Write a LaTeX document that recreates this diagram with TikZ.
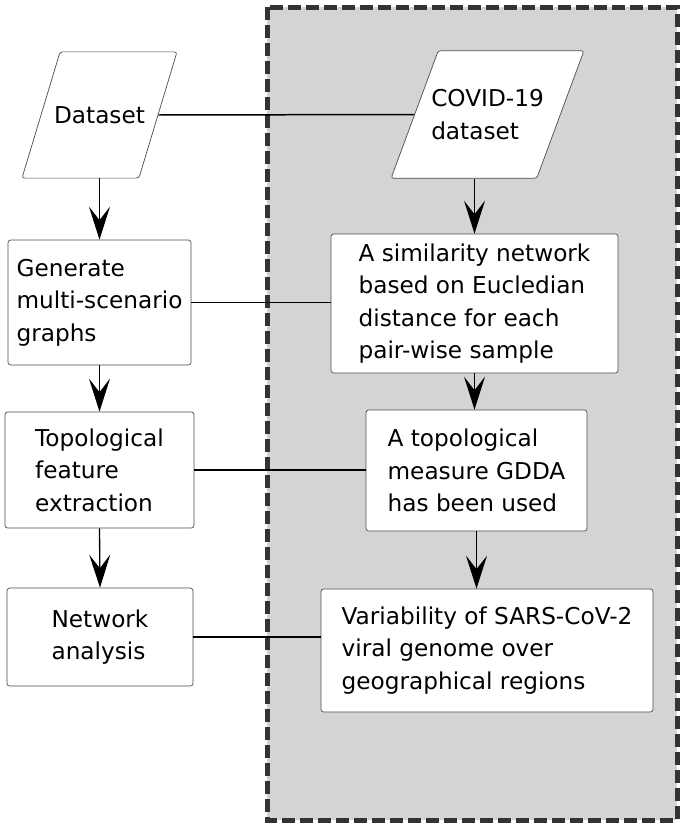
\documentclass[tikz,border=0pt]{standalone}
\usepackage{fontspec}
\setmainfont{DejaVu Sans}
\usetikzlibrary{shapes.geometric, arrows.meta, positioning}

\tikzset{
  boxfont/.style={font=\fontsize{13.2}{18.5}\selectfont},
  procbox/.style={draw=black!70, fill=white, rounded corners=1.5pt, align=left, inner sep=0pt, boxfont},
  databox/.style={trapezium, trapezium stretches body=true, draw=black!70, fill=white, rounded corners=1.5pt, align=left, boxfont},
  flow/.style={-{Stealth[length=6.6mm,width=4.2mm,inset=2.7mm]}, line width=0.75pt},
  link/.style={line width=0.85pt},
  dashbox/.style={draw=black!80, fill=black!17, line width=1mm, dash pattern=on 2.6mm off 1mm},
}

\begin{document}
\begin{tikzpicture}[x=0.2mm, y=-0.2mm]
\useasboundingbox (0,0) rectangle (685,828);

% shaded region
\draw[dashbox] (267,7) rectangle (677,820);

% left column
\node[databox, inner xsep=-1.2mm, inner ysep=10.9mm,
  trapezium left angle=73.2, trapezium right angle=106.8] (data) at (99.5,115) {Dataset};
\node[procbox, minimum width=36.6mm, minimum height=25mm] (gen) at (99.5,302.5) {Generate\\multi-scenario\\graphs};
\node[procbox, minimum width=37.8mm, minimum height=23.2mm] (topo) at (99.5,470) {Topological\\feature\\extraction};
\node[procbox, minimum width=37.2mm, minimum height=19.6mm] (net) at (100,637) {Network\\analysis};

% right column
\node[databox, inner xsep=-1.4mm, inner ysep=7.75mm,
  trapezium left angle=69.7, trapezium right angle=110.3] (covid) at (487.5,114.5) {COVID-19\\dataset};
\node[procbox, minimum width=57.4mm, minimum height=27.8mm] (sim) at (474.5,303.5) {A similarity network\\based on Eucledian\\distance for each\\pair-wise sample};
\node[procbox, minimum width=44.2mm, minimum height=24.2mm] (gdda) at (476.5,470.5) {A topological\\measure GDDA\\has been used};
\node[procbox, minimum width=66.4mm, minimum height=24.6mm] (var) at (487,650.5) {Variability of SARS-CoV-2\\viral genome over\\geographical regions};

% arrows
\draw[flow] (gen.north |- data.south) -- (gen.north);
\draw[flow] (gen.south) -- (topo.north);
\draw[flow] (topo.south) -- (net.north);
\draw[flow] (sim.north |- covid.south) -- (sim.north);
\draw[flow] (sim.south) -- (sim.south |- gdda.north);
\draw[flow] (gdda.south) -- (gdda.south |- var.north);

% links across
\draw[link] (data.east) -- (covid.west);
\draw[link] (gen.east) -- (gen.east -| sim.west);
\draw[link] (topo.east) -- (topo.east -| gdda.west);
\draw[link] (net.east) -- (net.east -| var.west);
\end{tikzpicture}
\end{document}
